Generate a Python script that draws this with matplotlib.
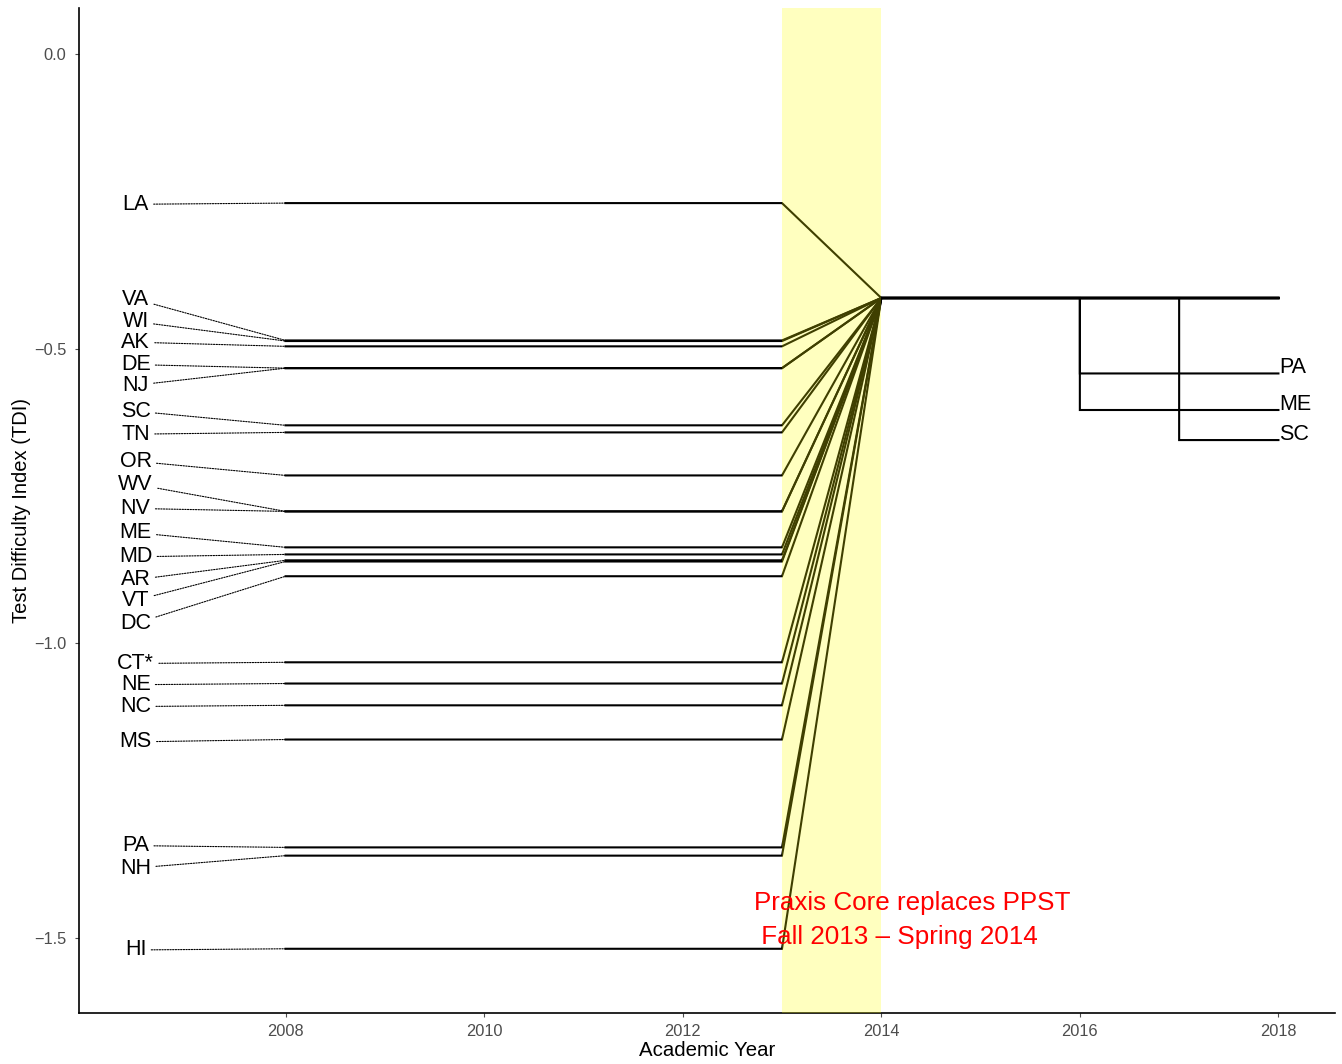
import numpy as np
import matplotlib.pyplot as plt

plt.rcParams['font.family'] = ['Liberation Sans', 'DejaVu Sans']

# PPST-era test difficulty index by state, and the common Praxis Core value
states = ['LA', 'VA', 'WI', 'AK', 'DE', 'NJ', 'SC', 'TN', 'OR', 'WV', 'NV', 'ME',
          'MD', 'AR', 'VT', 'DC', 'CT*', 'NE', 'NC', 'MS', 'PA', 'NH', 'HI']
ppst_tdi = [-0.253, -0.486, -0.487, -0.496, -0.533, -0.533, -0.630, -0.642, -0.715,
            -0.776, -0.776, -0.837, -0.849, -0.859, -0.861, -0.886, -1.032, -1.068,
            -1.105, -1.163, -1.346, -1.360, -1.518]
core_tdi = -0.414

# later cut-score changes
change_states = ['PA', 'ME', 'SC']
change_year = [2016, 2016, 2017]
change_tdi = [-0.542, -0.604, -0.655]

# repelled label heights for the left-hand state names
label_y = [-0.255, -0.416, -0.454, -0.489, -0.527, -0.562, -0.606, -0.645, -0.691,
           -0.730, -0.771, -0.812, -0.853, -0.892, -0.927, -0.966, -1.034, -1.070,
           -1.107, -1.167, -1.343, -1.381, -1.520]

fig = plt.figure(figsize=(13.42, 10.64), dpi=100)
ax = fig.add_axes([0.0589, 0.0479, 0.9359, 0.9446])

for st, v, ly in zip(states, ppst_tdi, label_y):
    xs = [2008, 2013, 2014]
    ys = [v, v, core_tdi]
    if st in change_states:
        i = change_states.index(st)
        xs += [change_year[i], change_year[i], 2018]
        ys += [core_tdi, change_tdi[i], change_tdi[i]]
    else:
        xs.append(2018)
        ys.append(core_tdi)
    ax.plot(xs, ys, color='black', lw=1.5, zorder=2, solid_joinstyle='miter')
    ax.annotate(st, xy=(2008, v), xytext=(2006.49, ly), ha='center', va='center',
                fontsize=15.5, zorder=5,
                arrowprops=dict(arrowstyle='-', linestyle=(0, (1.2, 1.2)), lw=0.8,
                                color='black', shrinkA=1.5, shrinkB=0))

for st, v in zip(change_states, change_tdi):
    ax.text(2018.01, v, st, ha='left', va='baseline', fontsize=15.5, zorder=5)

# transition window
ax.axvspan(2013, 2014, color='yellow', alpha=0.25, lw=0, zorder=3)
ax.text(2012.72, -1.469, 'Praxis Core replaces PPST\n Fall 2013 \u2013 Spring 2014',
        color='red', fontsize=18.7, ha='left', va='center', linespacing=1.5, zorder=6)

ax.set_xlim(2005.92, 2018.57)
ax.set_ylim(-1.627, 0.078)
ax.set_xticks([2008, 2010, 2012, 2014, 2016, 2018])
ax.set_yticks([0.0, -0.5, -1.0, -1.5])
ax.set_yticklabels(['0.0', '\u22120.5', '\u22121.0', '\u22121.5'])
ax.tick_params(axis='both', colors='#4d4d4d', labelsize=11.8, length=3, width=0.8)
ax.tick_params(axis='x', pad=5)
ax.tick_params(axis='y', pad=6)
for s in ['top', 'right']:
    ax.spines[s].set_visible(False)
for s in ['left', 'bottom']:
    ax.spines[s].set_linewidth(1.2)
ax.set_xlabel('Academic Year', fontsize=14.7, labelpad=1.5)
ax.set_ylabel('Test Difficulty Index (TDI)', fontsize=14.5, labelpad=2)

fig.savefig('out.png', dpi=100)
